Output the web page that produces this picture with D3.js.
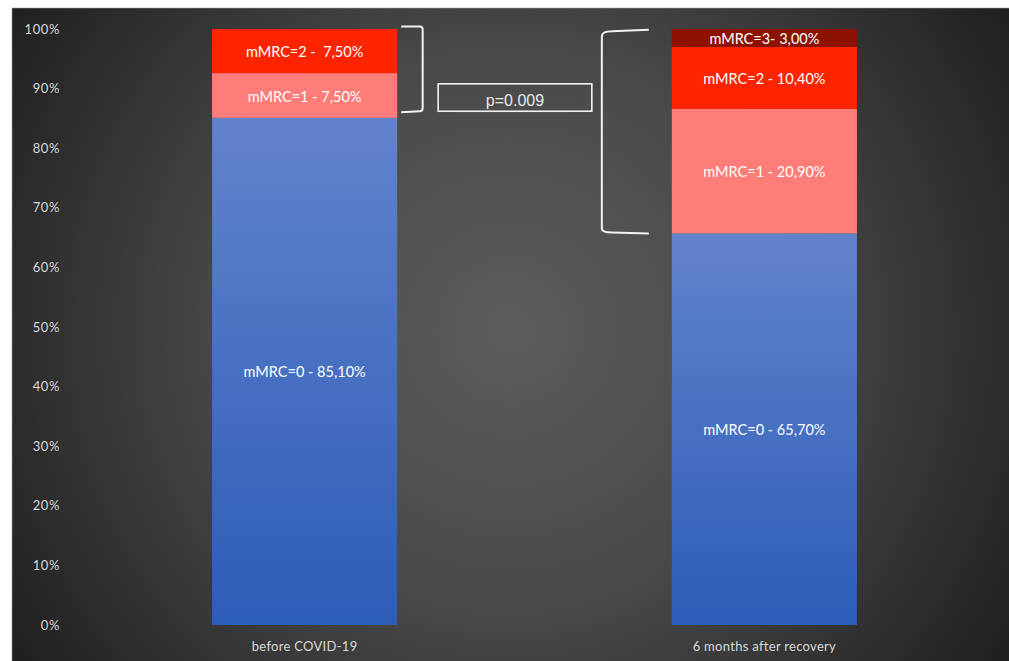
<!DOCTYPE html>
<html><head><meta charset="utf-8">
<script src="https://cdn.jsdelivr.net/npm/d3@7"></script>
<style>html,body{margin:0;padding:0;background:#fff;}svg{display:block;}</style>
</head><body>
<svg id="chart" width="1009" height="661"></svg>
<script>
const categories = ["before COVID-19", "6 months after recovery"];
const seriesNames = ["mMRC=0", "mMRC=1", "mMRC=2", "mMRC=3"];
const mmrc0 = [85.1, 65.7];
const mmrc1 = [7.5, 20.9];
const mmrc2 = [7.5, 10.4];
const mmrc3 = [0, 3.0];
const segmentLabels = [
  ["mMRC=0 - 85,10%", "mMRC=0 - 65,70%"],
  ["mMRC=1 - 7,50%", "mMRC=1 - 20,90%"],
  ["mMRC=2 -  7,50%", "mMRC=2 - 10,40%"],
  ["", "mMRC=3- 3,00%"]
];
const yTicks = [0, 10, 20, 30, 40, 50, 60, 70, 80, 90, 100];
const pValueText = "p=0.009";

const svg = d3.select("#chart");
const W = 1009, H = 661;
const defs = svg.append("defs");
const bg = defs.append("radialGradient").attr("id", "bg")
  .attr("gradientUnits", "userSpaceOnUse").attr("cx", 510).attr("cy", 330).attr("r", 620);
bg.append("stop").attr("offset", "0").attr("stop-color", "#5c5c5c");
bg.append("stop").attr("offset", "0.45").attr("stop-color", "#494949");
bg.append("stop").attr("offset", "1").attr("stop-color", "#1c1c1c");
const blue = defs.append("linearGradient").attr("id", "blueGrad").attr("x1", 0).attr("y1", 0).attr("x2", 0).attr("y2", 1);
blue.append("stop").attr("offset", "0").attr("stop-color", "#6283cb");
blue.append("stop").attr("offset", "1").attr("stop-color", "#2c5db8");

svg.append("rect").attr("x", 12).attr("y", 8).attr("width", W - 12).attr("height", H - 8)
  .attr("fill", "url(#bg)");
svg.append("path").attr("d", `M12,${H} L12,8 L${W},8`).attr("fill", "none")
  .attr("stroke", "#9a9a9a").attr("stroke-width", 0.6);

const x = d3.scaleBand().domain(categories).range([74.15, 994.85]).paddingInner(0.5974).paddingOuter(0.3);
const y = d3.scaleLinear().domain([0, 100]).range([625, 29]);

const colors = ["url(#blueGrad)", "#ff7d78", "#ff2400", "#8c1100"];
const seriesValues = [mmrc0, mmrc1, mmrc2, mmrc3];
const rows = categories.map((c, i) => {
  const r = { cat: c };
  seriesNames.forEach((s, k) => r[s] = seriesValues[k][i]);
  return r;
});
const stack = d3.stack().keys(seriesNames)(rows);

// y axis labels
const yAxis = d3.axisLeft(y).tickValues(yTicks).tickFormat(d => d + "%").tickSize(0).tickPadding(0);
const ya = svg.append("g").attr("transform", "translate(60,0)").call(yAxis);
ya.select(".domain").remove();
ya.selectAll("text").attr("fill", "#d9d9d9").style("font-family", "Lato, 'Open Sans', sans-serif")
  .style("font-size", "13px").style("letter-spacing", "0.6px");

// bars
const layers = svg.append("g").selectAll("g").data(stack).join("g");
layers.each(function(layer, k) {
  d3.select(this).selectAll("rect").data(layer.filter(d => d[1] - d[0] > 0)).join("rect")
    .attr("x", d => x(d.data.cat))
    .attr("width", x.bandwidth())
    .attr("y", d => y(Math.min(100, d[1])))
    .attr("height", d => y(d[0]) - y(Math.min(100, d[1])))
    .attr("fill", colors[k]);
});
// segment labels
layers.each(function(layer, k) {
  d3.select(this).selectAll("text").data(layer.map((d, i) => ({ d, i })).filter(o => o.d[1] - o.d[0] > 0)).join("text")
    .attr("x", o => x(o.d.data.cat) + x.bandwidth() / 2)
    .attr("y", o => (y(o.d[0]) + y(Math.min(100, o.d[1]))) / 2 + 1)
    .attr("dy", "0.35em")
    .attr("text-anchor", "middle")
    .attr("fill", "#ffffff")
    .style("font-family", "Lato, 'Open Sans', sans-serif")
    .style("font-size", "14.5px")
    .style("white-space", "pre")
    .text(o => segmentLabels[k][o.i]);
});

// category labels
const xAxis = d3.axisBottom(x).tickSize(0).tickPadding(0);
const xa = svg.append("g").attr("transform", "translate(0,642)").call(xAxis);
xa.select(".domain").remove();
xa.selectAll("text").attr("fill", "#d9d9d9").style("font-family", "Lato, 'Open Sans', sans-serif")
  .style("font-size", "13px").style("letter-spacing", "0.3px");

// brackets
const bx0 = x(categories[0]) + x.bandwidth();
const bx1 = x(categories[1]);
const ann = svg.append("g").attr("fill", "none").attr("stroke", "#f2f2f2").attr("stroke-width", 2);
const lt = y(100.4), lb = y(86.2);
const lx = bx0 + 25.5;
ann.append("path").attr("d",
  `M${bx0 + 4},${lt} L${lx - 3},${lt} Q${lx},${lt} ${lx},${lt + 3} L${lx},${lb - 3} Q${lx},${lb} ${lx - 3},${lb} L${bx0 + 4},${lb + 1}`);
const rt = y(99.8), rb = y(65.7);
const rx = bx1 - 70;
ann.append("path").attr("d",
  `M${bx1 - 23},${rt - 0.5} L${rx + 10},${rt + 1} Q${rx},${rt + 1} ${rx},${rt + 6} L${rx},${rb - 5} Q${rx},${rb - 1} ${rx + 10},${rb - 1} L${bx1 - 23},${rb}`);

// p-value box
const px0 = bx0 + 41, px1 = bx1 - 80;
ann.append("rect").attr("x", px0).attr("y", y(90.8)).attr("width", px1 - px0).attr("height", y(86.2) - y(90.8))
  .attr("stroke-width", 1.6);
svg.append("text").attr("x", (px0 + px1) / 2).attr("y", (y(90.8) + y(86.2)) / 2 + 2.5).attr("dy", "0.35em")
  .attr("text-anchor", "middle").attr("fill", "#e6e6e6")
  .style("font-family", "'Liberation Sans', Arial, sans-serif").style("font-size", "16px")
  .text(pValueText);
</script>
</body></html>
